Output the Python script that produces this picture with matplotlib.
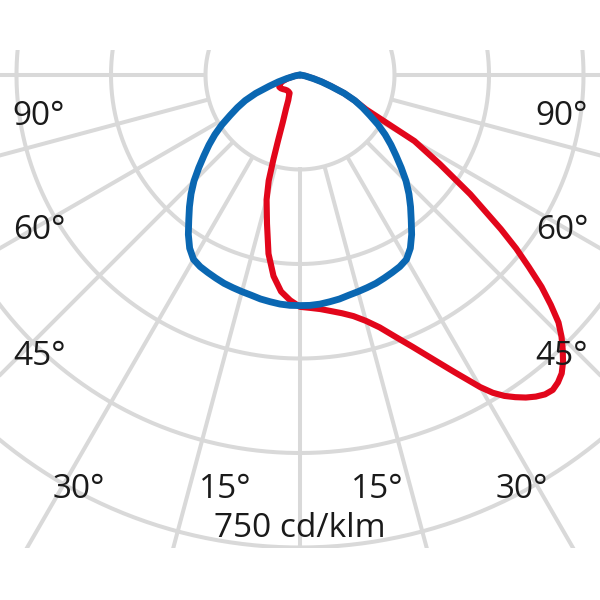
import numpy as np
import matplotlib.pyplot as plt
import matplotlib.patches as mpatches

plt.rcParams['font.family'] = ['Open Sans', 'DejaVu Sans']

# luminous intensity in cd/klm, angle in degrees from nadir
# C0-C180 plane (blue)
blue_angles = [-90, -85, -80, -75, -72.5, -70, -67.5, -65, -62.5, -60, -57.5, -55, -52.5, -50,
               -47.5, -45, -42.5, -40, -37.5, -35, -32.5, -30, -27.5, -25, -22.5, -20, -17.5,
               -15, -12.5, -10, -7.5, -5, -2.5, 0, 2.5, 5, 7.5, 10, 12.5, 15, 17.5, 20, 22.5,
               25, 27.5, 30, 32.5, 35, 37.5, 40, 42.5, 45, 47.5, 50, 52.5, 55, 57.5, 60, 62.5,
               65, 67.5, 70, 72.5, 75, 80, 85, 90]
blue_values = [0, 2, 8, 22, 36, 52, 76, 96, 112, 128, 147, 165, 182, 199,
               218, 238, 256, 273, 290, 309, 326, 338, 343, 346, 349, 352, 354,
               356, 358, 361, 363, 365, 366, 366, 366, 365, 363, 361, 358, 356, 354, 352, 349,
               346, 343, 338, 326, 309, 290, 273, 256, 238, 218, 199, 182, 165, 147, 128, 112,
               96, 76, 52, 36, 22, 8, 2, 0]

# C90-C270 plane (red)
red_angles = [-90, -80, -75, -70, -65, -60, -55, -50, -45, -40, -35, -30, -27.5, -25, -22.5, -20,
              -18.5, -17.5, -16.5, -15, -12.5, -10, -7.5, -5, -2.5, 0, 2.5, 5, 7.5, 10, 12.5, 15,
              17.5, 20, 22.5, 25, 27.5, 30, 31.25, 32.5, 33.75, 35, 36.25, 37.5, 38.75, 40,
              41.25, 42.5, 43.75, 45, 46.25, 47.5, 48.75, 50, 51.25, 52.5, 55, 57.5, 60, 61,
              62.5, 65, 67.5, 70, 72.5, 75, 80, 85, 90]
red_values = [0, 8, 20, 30, 36, 38, 37, 35, 33, 32, 32, 33, 38, 44, 58, 80,
              110, 140, 175, 205, 242, 288, 322, 345, 358, 368, 370, 373, 378, 384, 392, 404,
              420, 442, 467, 497, 532, 572, 590, 604, 615, 625, 633, 639, 641, 637,
              630, 618, 603, 587, 568, 540, 510, 474, 440, 402, 330, 263, 210, 160,
              118, 96, 76, 53, 37, 23, 9, 2, 0]

ring_values = [150, 300, 450, 600, 750]
spoke_angles = [-90, -75, -60, -45, -30, -15, 0, 15, 30, 45, 60, 75, 90]

side_labels = ['90°', '60°', '45°']
bottom_labels = ['30°', '15°', '15°', '30°']
scale_label = '750 cd/klm'

grey = '#d9d9d9'
blue = '#0a67b2'
red = '#e2061b'

fig = plt.figure(figsize=(6, 6), dpi=100)

# polar axes centred at pixel (300, 75) from top, 150 cd/klm = 94.5 px
rmax = 1000
rpix = rmax * 94.5 / 150
cx, cy = 300, 600 - 75
ax = fig.add_axes([(cx - rpix) / 600, (cy - rpix) / 600, 2 * rpix / 600, 2 * rpix / 600],
                  projection='polar')
ax.set_theta_zero_location('S')
ax.set_theta_direction(1)
ax.set_rlim(0, rmax)
ax.set_axis_off()

clip = mpatches.Rectangle((0, 52 / 600), 1, 498 / 600, transform=fig.transFigure,
                          facecolor='none', edgecolor='none')
fig.add_artist(clip)

full = np.linspace(0, 2 * np.pi, 721)
for r in ring_values:
    ln, = ax.plot(full, np.full_like(full, r), color=grey, lw=2.9, zorder=1)
    ln.set_clip_path(clip)
for a in spoke_angles:
    t = np.deg2rad(a)
    ln, = ax.plot([t, t], [ring_values[0], rmax], color=grey, lw=2.9, zorder=1,
                  solid_capstyle='butt')
    ln.set_clip_path(clip)

ax.plot(np.deg2rad(red_angles), red_values, color=red, lw=4.4, zorder=3,
        solid_joinstyle='round', solid_capstyle='round')
ax.plot(np.deg2rad(blue_angles), blue_values, color=blue, lw=4.9, zorder=4,
        solid_joinstyle='round', solid_capstyle='round')

fs = 24
side_y = [125, 239, 365]
for lab, y in zip(side_labels, side_y):
    fig.text(39 / 600, 1 - y / 600, lab, ha='center', va='baseline', fontsize=fs, color='#1a1a1a')
    fig.text(562 / 600, 1 - y / 600, lab, ha='center', va='baseline', fontsize=fs, color='#1a1a1a')
for lab, x in zip(bottom_labels, [79, 225, 377, 522]):
    fig.text(x / 600, 1 - 498 / 600, lab, ha='center', va='baseline', fontsize=fs, color='#1a1a1a')
fig.text(300 / 600, 1 - 537 / 600, scale_label, ha='center', va='baseline', fontsize=fs,
         color='#1a1a1a')

fig.savefig('out.png', dpi=100)
